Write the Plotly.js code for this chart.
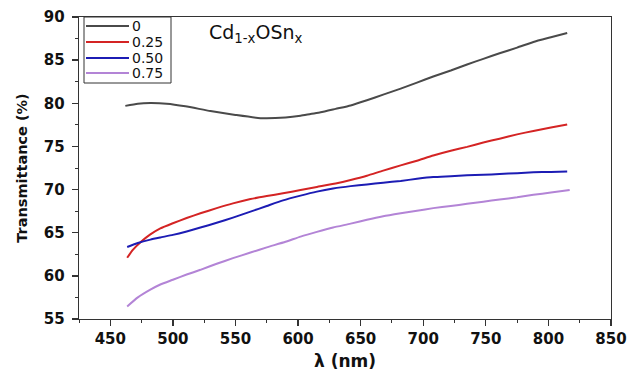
<!DOCTYPE html>
<html>
<head>
<meta charset="utf-8">
<script src="https://cdn.plot.ly/plotly-3.0.1.min.js"></script>
<style>html,body{margin:0;padding:0;background:#fff;}#chart{width:627px;height:371px;}</style>
</head>
<body>
<div id="chart"></div>
<script>
const seriesNames = ["0", "0.25", "0.50", "0.75"];

const lambda0 = [462, 472, 482, 495, 510, 530, 550, 570, 590, 602, 610, 618, 630, 642, 655, 668, 682, 695, 708, 722, 735, 748, 761, 775, 788, 802, 815];
const t0 = [79.7, 79.95, 80.02, 79.95, 79.65, 79.1, 78.65, 78.28, 78.35, 78.55, 78.76, 78.95, 79.35, 79.75, 80.35, 81.0, 81.7, 82.4, 83.1, 83.8, 84.5, 85.15, 85.8, 86.45, 87.1, 87.65, 88.15];

const lambda25 = [463.5, 468, 475, 482, 490, 500, 511, 522, 535, 548, 562, 575, 588, 602, 615, 630, 642, 655, 668, 682, 695, 708, 722, 735, 748, 761, 775, 788, 802, 815];
const t25 = [62.1, 63.0, 64.0, 64.8, 65.5, 66.1, 66.7, 67.25, 67.85, 68.4, 68.9, 69.25, 69.57, 69.95, 70.3, 70.7, 71.1, 71.6, 72.2, 72.8, 73.35, 73.95, 74.5, 74.95, 75.45, 75.9, 76.4, 76.8, 77.2, 77.55];

const lambda50 = [463.5, 472, 482, 490, 500, 511, 522, 535, 548, 562, 575, 588, 602, 615, 628, 642, 655, 668, 682, 695, 708, 722, 735, 748, 761, 775, 788, 802, 815];
const t50 = [63.35, 63.8, 64.2, 64.45, 64.75, 65.15, 65.6, 66.15, 66.75, 67.44, 68.1, 68.75, 69.3, 69.76, 70.12, 70.4, 70.6, 70.8, 71.0, 71.25, 71.45, 71.55, 71.65, 71.72, 71.8, 71.9, 72.0, 72.05, 72.1];

const lambda75 = [463.5, 472, 482, 490, 500, 511, 522, 535, 548, 562, 575, 590, 602, 615, 628, 642, 655, 668, 682, 695, 708, 722, 735, 748, 761, 775, 788, 802, 817];
const t75 = [56.45, 57.5, 58.4, 59.0, 59.55, 60.15, 60.7, 61.4, 62.05, 62.7, 63.3, 63.95, 64.55, 65.1, 65.6, 66.05, 66.5, 66.9, 67.25, 67.55, 67.85, 68.1, 68.35, 68.6, 68.85, 69.1, 69.4, 69.65, 69.95];

const colors = ["#4a4a4a", "#d42424", "#1c1cb4", "#b384d6"];
const xs = [lambda0, lambda25, lambda50, lambda75];
const ys = [t0, t25, t50, t75];

const traces = xs.map((x, i) => ({
  x: x, y: ys[i], name: seriesNames[i], type: "scatter", mode: "lines",
  line: {color: colors[i], width: 2, shape: "spline", smoothing: 0.5}
}));

// layout geometry (pixels)
const W = 627, H = 371, ML = 79, MR = 16, MT = 17, MB = 52;
const PW = W - ML - MR, PH = H - MT - MB;
const px = v => (v - ML) / PW;
const py = v => 1 - (v - MT) / PH;

const shapes = [];
const annotations = [];
// hand-placed legend box (compact like the reference)
shapes.push({type: "rect", xref: "paper", yref: "paper", x0: px(84), x1: px(171), y0: py(17), y1: py(83),
  line: {color: "#333", width: 1}, fillcolor: "#fff", layer: "above"});
const legendY = [26, 42, 58, 73];
seriesNames.forEach((name, i) => {
  shapes.push({type: "line", xref: "paper", yref: "paper", x0: px(86), x1: px(129), y0: py(legendY[i]), y1: py(legendY[i]),
    line: {color: colors[i], width: 2}, layer: "above"});
  annotations.push({xref: "paper", yref: "paper", x: px(131), y: py(legendY[i]), xanchor: "left", yanchor: "middle",
    text: name, showarrow: false, borderpad: 0,
    font: {family: "DejaVu Sans, sans-serif", size: 14, color: "#111"}});
});
annotations.push({
  xref: "paper", yref: "paper", x: px(207), y: py(33), xanchor: "left", yanchor: "middle",
  text: "Cd<sub>1-x</sub>OSn<sub>x</sub>", showarrow: false,
  font: {family: "DejaVu Sans, sans-serif", size: 19, color: "#111"}
});

const axisFont = {family: "DejaVu Sans, sans-serif", size: 15, color: "#111", weight: "bold"};

const layout = {
  width: W, height: H,
  margin: {l: ML, r: MR, t: MT, b: MB},
  paper_bgcolor: "#fff", plot_bgcolor: "#fff",
  showlegend: false,
  xaxis: {
    range: [425, 850], tickvals: [450, 500, 550, 600, 650, 700, 750, 800, 850],
    ticks: "outside", ticklen: 6, tickwidth: 1.3, tickcolor: "#333",
    minor: {dtick: 25, tick0: 425, ticks: "outside", ticklen: 3, tickwidth: 1, tickcolor: "#333", showgrid: false},
    showline: true, linecolor: "#333", linewidth: 1.3, mirror: true,
    showgrid: false, zeroline: false, tickfont: axisFont,
    title: {text: "λ (nm)", font: {family: "DejaVu Sans, sans-serif", size: 17, color: "#111", weight: "bold"}, standoff: 7}
  },
  yaxis: {
    range: [55, 90], tickvals: [55, 60, 65, 70, 75, 80, 85, 90],
    ticks: "outside", ticklen: 6, tickwidth: 1.3, tickcolor: "#333",
    minor: {dtick: 2.5, tick0: 55, ticks: "outside", ticklen: 3, tickwidth: 1, tickcolor: "#333", showgrid: false},
    showline: true, linecolor: "#333", linewidth: 1.3, mirror: true,
    showgrid: false, zeroline: false, tickfont: axisFont, ticklabelstandoff: 4,
    title: {text: "Transmittance (%)", font: {family: "DejaVu Sans, sans-serif", size: 14.5, color: "#111", weight: "bold"}, standoff: 12}
  },
  shapes: shapes,
  annotations: annotations
};

Plotly.newPlot("chart", traces, layout, {displayModeBar: false, staticPlot: true});
</script>
</body>
</html>
